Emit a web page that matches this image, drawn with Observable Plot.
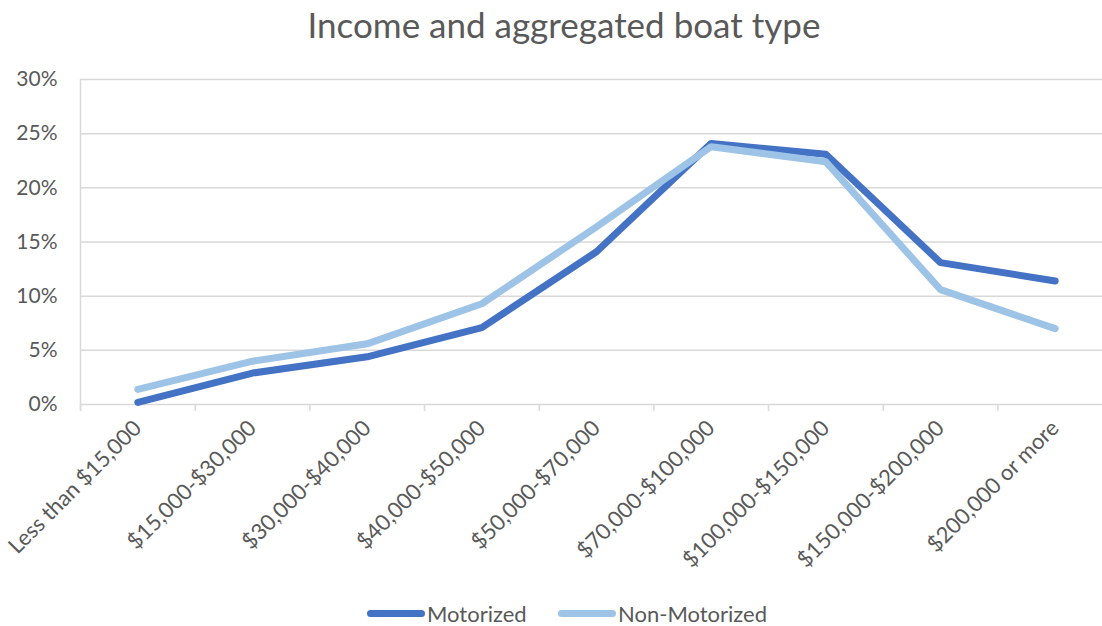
<!DOCTYPE html>
<html>
<head>
<meta charset="utf-8">
<script src="https://cdn.jsdelivr.net/npm/d3@7"></script>
<script src="https://cdn.jsdelivr.net/npm/@observablehq/plot@0.6"></script>
<style>
  html, body { margin: 0; padding: 0; background: #fff; overflow: hidden; }
  body { width: 1102px; height: 626px; position: relative; font-family: Lato, "Open Sans", sans-serif; color: #595959; }
  #title { position: absolute; left: 0; width: 1128px; top: 0px; text-align: center; font-size: 35px; line-height: 48px; }
  #chart { position: absolute; left: 0; top: 0; }
  #legend { position: absolute; top: 599px; left: 0; width: 1102px; height: 28px; font-size: 22px; }
  .item { position: absolute; top: 0; display: flex; align-items: center; height: 28px; }
  .sw { width: 58px; height: 7px; border-radius: 4px; margin-right: 2px; }
</style>
</head>
<body>
<div id="title">Income and aggregated boat type</div>
<div id="chart"></div>
<div id="legend"></div>
<script>
const categories = [
  "Less than $15,000", "$15,000-$30,000", "$30,000-$40,000", "$40,000-$50,000",
  "$50,000-$70,000", "$70,000-$100,000", "$100,000-$150,000", "$150,000-$200,000",
  "$200,000 or more"
];
const seriesNames = ["Motorized", "Non-Motorized"];
const motorized    = [0.002, 0.029, 0.044, 0.071, 0.141, 0.241, 0.231, 0.131, 0.114];
const nonMotorized = [0.014, 0.040, 0.056, 0.093, 0.164, 0.238, 0.224, 0.106, 0.070];
const yTicks = [0, 0.05, 0.10, 0.15, 0.20, 0.25, 0.30];
const colors = ["#4472C4", "#9DC3E6"];

const rows = [];
categories.forEach((c, i) => {
  rows.push({i, cat: c, series: seriesNames[0], value: motorized[i]});
  rows.push({i, cat: c, series: seriesNames[1], value: nonMotorized[i]});
});
const boundaries = categories.map((d, i) => i - 0.5);

const plot = Plot.plot({
  width: 1102,
  height: 626,
  marginTop: 79,
  marginBottom: 222,
  marginLeft: 80,
  marginRight: 0,
  style: { fontFamily: "Lato, 'Open Sans', sans-serif", fontSize: "22px", color: "#595959", background: "transparent", overflow: "visible" },
  x: {
    type: "linear",
    domain: [-0.5, categories.length - 0.5],
    range: [80, 1112],
    ticks: categories.map((d, i) => i),
    tickFormat: i => categories[i],
    tickRotate: -45,
    tickSize: 0,
    tickPadding: 20,
    label: null
  },
  y: {
    domain: [0, 0.30],
    ticks: yTicks,
    tickFormat: d3.format(".0%"),
    tickSize: 0,
    tickPadding: 23,
    label: null
  },
  color: { domain: seriesNames, range: colors },
  marks: [
    Plot.ruleY(yTicks, { stroke: "#d9d9d9", strokeWidth: 1.5 }),
    Plot.ruleX([boundaries[0]], { stroke: "#d9d9d9", strokeWidth: 1.5, insetBottom: -7 }),
    Plot.ruleX(boundaries, { y1: yTicks[0], y2: yTicks[0], stroke: "#d9d9d9", strokeWidth: 1.5, insetBottom: -7 }),
    Plot.line(rows.filter(d => d.series === seriesNames[0]), {
      x: "i", y: "value", stroke: "series", strokeWidth: 7, strokeLinecap: "round", strokeLinejoin: "round"
    }),
    Plot.line(rows.filter(d => d.series === seriesNames[1]), {
      x: "i", y: "value", stroke: "series", strokeWidth: 7, strokeLinecap: "round", strokeLinejoin: "round"
    })
  ]
});
// y tick labels slightly smaller than x labels
plot.querySelectorAll("[aria-label='y-axis'] text, [aria-label='y-axis tick label'] text").forEach(t => t.style.fontSize = "21px");
document.getElementById("chart").appendChild(plot);

const legend = document.getElementById("legend");
const legendX = [367, 558];
seriesNames.forEach((s, k) => {
  const item = document.createElement("div");
  item.className = "item";
  item.style.left = legendX[k] + "px";
  const sw = document.createElement("div");
  sw.className = "sw";
  sw.style.background = colors[k];
  const t = document.createElement("span");
  t.textContent = s;
  item.appendChild(sw);
  item.appendChild(t);
  legend.appendChild(item);
});
</script>
</body>
</html>
